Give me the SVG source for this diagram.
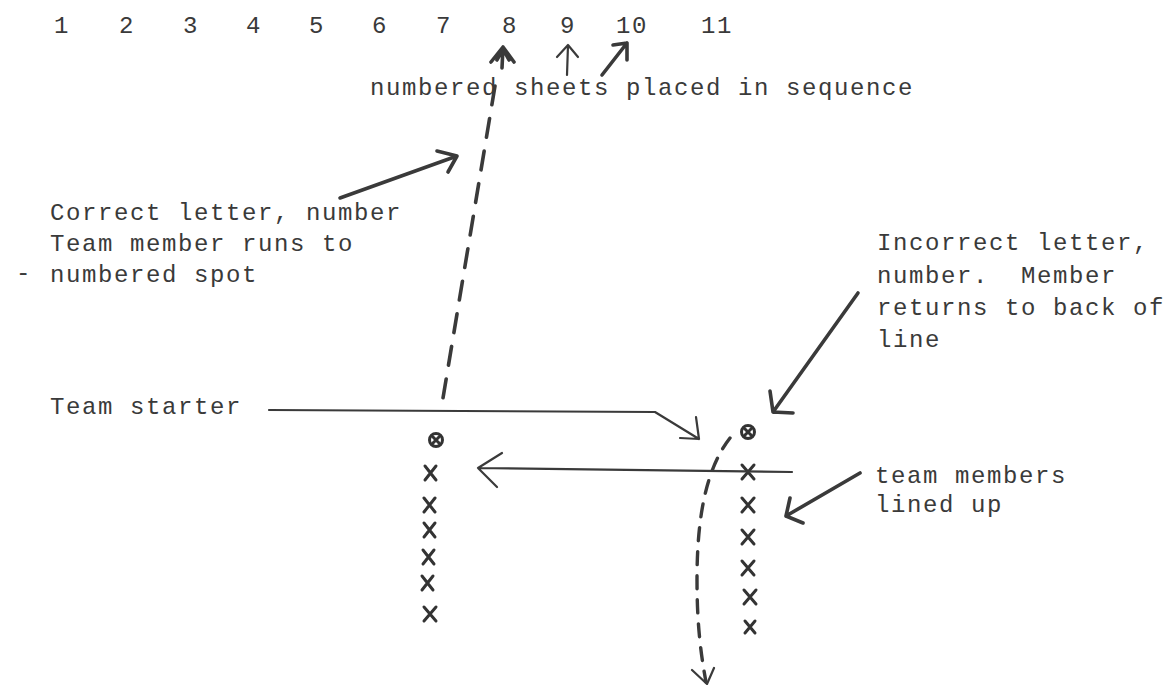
<svg xmlns="http://www.w3.org/2000/svg" width="1166" height="685" viewBox="0 0 1166 685">
<style>
.t{font-family:"Liberation Mono","Courier New",monospace;font-size:24px;letter-spacing:1.6px;fill:#3a3a3a}
.ln{fill:none;stroke:#3a3a3a;stroke-linecap:round;stroke-linejoin:round}
.thin{stroke-width:2.2}
.bold{stroke-width:3.6}
.dash{stroke-width:3.6;stroke-dasharray:19 14}
.dash2{stroke-width:3.4;stroke-dasharray:13 11}
.mk{fill:none;stroke:#333;stroke-width:3;stroke-linecap:round}
</style>
<rect width="1166" height="685" fill="#ffffff"/>
<g id="numbers" class="t">
<text x="54" y="33">1</text>
<text x="119" y="33">2</text>
<text x="183" y="33">3</text>
<text x="246" y="33">4</text>
<text x="309" y="33">5</text>
<text x="372" y="33">6</text>
<text x="436" y="33">7</text>
<text x="502" y="33">8</text>
<text x="560" y="33">9</text>
<text x="616" y="33">10</text>
<text x="701" y="33">11</text>
</g>
<g id="label-sheets" class="t"><text x="370" y="95">numbered sheets placed in sequence</text></g>
<g id="label-correct" class="t">
<text x="50" y="220">Correct letter, number</text>
<text x="50" y="251">Team member runs to</text>
<text x="50" y="282">numbered spot</text>
<text x="16" y="280">-</text>
</g>
<g id="label-starter" class="t"><text x="50" y="414">Team starter</text></g>
<g id="label-incorrect" class="t">
<text x="877" y="250">Incorrect letter,</text>
<text x="877" y="283" xml:space="preserve">number.  Member</text>
<text x="877" y="315">returns to back of</text>
<text x="877" y="347">line</text>
</g>
<g id="label-members" class="t">
<text x="875" y="483">team members</text>
<text x="875" y="512">lined up</text>
</g>
<g id="starter-left">
<circle cx="436" cy="440" r="6.5" class="mk"/>
<path d="M433 437l6 6M439 437l-6 6" class="mk" stroke-width="1.6"/>
</g>
<g id="team-left">
<path class="mk" d="M425 466l11 14M436 466l-11 14"/>
<path class="mk" d="M424 498l11 14M435 498l-11 14"/>
<path class="mk" d="M424 523l11 14M435 523l-11 14"/>
<path class="mk" d="M423 550l11 14M434 550l-11 14"/>
<path class="mk" d="M422 576l11 14M433 576l-11 14"/>
<path class="mk" d="M424 607l12 14M436 607l-12 14"/>
</g>
<g id="starter-right">
<circle cx="748" cy="432" r="6.5" class="mk"/>
<path d="M745 429l6 6M751 429l-6 6" class="mk" stroke-width="1.6"/>
</g>
<g id="team-right">
<path class="mk" d="M742 465l12 14M754 465l-12 14"/>
<path class="mk" d="M742 498l12 14M754 498l-12 14"/>
<path class="mk" d="M742 530l12 14M754 530l-12 14"/>
<path class="mk" d="M742 561l12 14M754 561l-12 14"/>
<path class="mk" d="M744 590l12 14M756 590l-12 14"/>
<path class="mk" d="M745 621l10 12M755 621l-10 12"/>
</g>
<g id="connectors">
<path class="ln dash" d="M495 86L441 410"/>
<path class="ln bold" d="M340 198L457 156M437 151L457 156L448 172"/>
<path class="ln bold" d="M502 68L503 47M491 62L503 47L514 62M497 60L503 49L509 60"/>
<path class="ln thin" d="M567 75L568 45M557 57L568 45L578 57"/>
<path class="ln bold" d="M602 75L627 43M613 45L627 43L627 60"/>
<path class="ln thin" d="M269 410L655 412L699 439M696 417L699 439L680 438"/>
<path class="ln thin" d="M792 472L478 468M502 453L478 468L497 487"/>
<path class="ln dash2" d="M730 438C705 470 697 520 697 580C697 620 700 650 706 682"/>
<path class="ln thin" d="M692 670L707 684L714 668"/>
<path class="ln bold" d="M858 293L773 412M770 391L773 412L793 413"/>
<path class="ln bold" stroke-width="3" d="M860 473L786 516M790 498L786 516L803 523"/>
</g>
</svg>
